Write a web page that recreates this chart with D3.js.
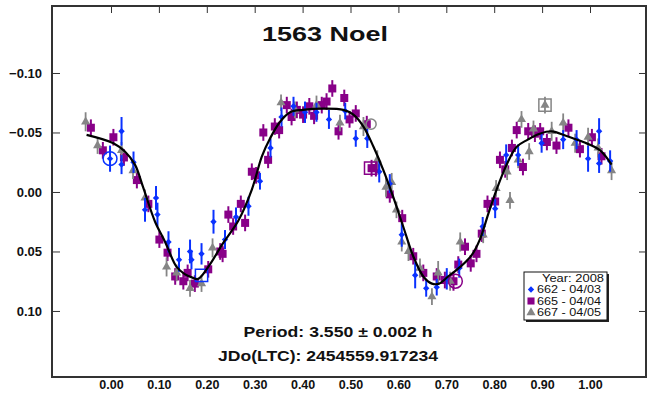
<!DOCTYPE html>
<html><head><meta charset="utf-8">
<script src="https://cdn.jsdelivr.net/npm/d3@7"></script>
<style>body{margin:0;background:#fff}svg{display:block}text{font-family:Arial,"Liberation Sans",sans-serif}</style>
</head><body><svg id="c" width="648" height="393"></svg>
<script>
// ---- data (phase, magnitude, error) ----
const series662 = [
 [-0.002,-0.028,0.011],[0.022,-0.051,0.012],[0.022,-0.023,0.008],[0.047,-0.025,0.009],[0.071,0.015,0.010],
 [0.094,0.005,0.010],[0.097,0.019,0.010],[0.120,0.042,0.009],[0.142,0.057,0.010],[0.165,0.050,0.010],
 [0.168,0.057,0.008],[0.189,0.052,0.009],[0.214,0.025,0.010],[0.238,0.040,0.008],[0.261,0.021,0.008],
 [0.287,0.012,0.008],[0.311,-0.009,0.007],[0.333,-0.037,0.008],[0.356,-0.063,0.008],[0.381,-0.072,0.008],
 [0.405,-0.067,0.009],[0.429,-0.067,0.008],[0.455,-0.061,0.008],[0.489,-0.068,0.007],[0.511,-0.045,0.007],
 [0.535,-0.045,0.008],[0.560,-0.017,0.009],[0.582,-0.007,0.008],[0.607,0.036,0.010],[0.635,0.070,0.011],
 [0.658,0.081,0.007],[0.680,0.080,0.007],[0.701,0.073,0.009],[0.727,0.064,0.008],[0.776,0.029,0.008],
 [0.802,0.014,0.008],[0.825,-0.031,0.009],[0.850,-0.031,0.009],[0.899,-0.041,0.008],[0.944,-0.044,0.008],
 [0.972,-0.044,0.008],[0.996,-0.028,0.011],[1.019,-0.051,0.011],[1.019,-0.024,0.008],[1.042,-0.026,0.009]
];
const series665 = [
 [-0.042,-0.054,0.007],[-0.017,-0.035,0.007],[0.005,-0.046,0.007],[0.027,-0.029,0.007],[0.054,-0.010,0.007],
 [0.078,0.010,0.007],[0.101,0.040,0.007],[0.118,0.051,0.007],[0.134,0.071,0.007],[0.151,0.075,0.007],
 [0.160,0.068,0.007],[0.175,0.077,0.007],[0.203,0.065,0.007],[0.228,0.050,0.007],[0.233,0.052,0.007],
 [0.245,0.019,0.007],[0.255,0.029,0.007],[0.271,0.010,0.007],[0.280,0.026,0.007],[0.294,-0.017,0.007],
 [0.303,-0.014,0.007],[0.328,-0.027,0.007],[0.318,-0.050,0.007],[0.342,-0.055,0.007],[0.351,-0.052,0.007],
 [0.367,-0.073,0.007],[0.377,-0.063,0.007],[0.388,-0.069,0.007],[0.401,-0.065,0.007],[0.414,-0.072,0.007],
 [0.424,-0.064,0.007],[0.440,-0.073,0.007],[0.450,-0.076,0.007],[0.462,-0.087,0.007],[0.475,-0.051,0.007],
 [0.487,-0.079,0.007],[0.498,-0.061,0.007],[0.511,-0.066,0.007],[0.534,-0.057,0.007],[0.544,-0.020,0.007],
 [0.553,-0.020,0.007],[0.582,0.002,0.007],[0.608,0.022,0.007],[0.631,0.054,0.007],[0.652,0.068,0.007],
 [0.680,0.071,0.007],[0.697,0.074,0.007],[0.715,0.075,0.008],[0.725,0.061,0.007],[0.739,0.046,0.007],
 [0.751,0.060,0.007],[0.763,0.052,0.007],[0.774,0.035,0.007],[0.786,0.010,0.007],[0.802,0.008,0.007],
 [0.812,-0.027,0.007],[0.823,-0.019,0.007],[0.837,-0.037,0.007],[0.847,-0.052,0.007],[0.860,-0.021,0.007],
 [0.871,-0.051,0.007],[0.885,-0.049,0.007],[0.896,-0.051,0.007],[0.910,-0.042,0.007],[0.930,-0.039,0.007],
 [0.955,-0.054,0.007],[0.979,-0.036,0.007],[1.004,-0.046,0.007],[1.024,-0.030,0.007]
];
const series667 = [
 [-0.053,-0.059,0.008],[-0.028,-0.039,0.007],[0.022,-0.035,0.007],[0.046,-0.018,0.007],[0.071,0.005,0.007],
 [0.116,0.063,0.008],[0.137,0.068,0.007],[0.165,0.081,0.007],[0.189,0.077,0.007],[0.212,0.047,0.008],
 [0.355,-0.075,0.007],[0.384,-0.069,0.007],[0.429,-0.073,0.008],[0.478,-0.058,0.007],[0.527,-0.055,0.008],
 [0.556,-0.027,0.008],[0.574,-0.004,0.008],[0.586,-0.008,0.008],[0.596,0.015,0.007],[0.607,0.042,0.008],
 [0.621,0.050,0.008],[0.645,0.064,0.008],[0.670,0.088,0.007],[0.683,0.068,0.010],[0.708,0.075,0.008],
 [0.729,0.042,0.008],[0.777,0.036,0.007],[0.804,-0.003,0.007],[0.827,-0.017,0.007],[0.833,0.007,0.007],
 [0.850,-0.027,0.007],[0.857,-0.061,0.007],[0.873,-0.034,0.007],[0.882,-0.053,0.007],[0.906,-0.073,0.007],
 [0.920,-0.051,0.008],[0.944,-0.058,0.008],[0.969,-0.041,0.008],[0.996,-0.046,0.008],[1.017,-0.037,0.008],
 [1.045,-0.018,0.008]
];
// fitted curve (phase, magnitude)
const fitCurve = [
 [-0.051,-0.048],[0.005,-0.041],[0.029,-0.034],[0.05,-0.023],[0.067,-0.004],[0.092,0.025],[0.113,0.042],
 [0.137,0.063],[0.154,0.069],[0.17,0.072],[0.182,0.073],[0.203,0.063],[0.234,0.043],[0.266,0.024],
 [0.294,-0.002],[0.315,-0.030],[0.332,-0.045],[0.353,-0.059],[0.374,-0.067],[0.40,-0.069],[0.443,-0.070],
 [0.485,-0.069],[0.506,-0.065],[0.527,-0.055],[0.548,-0.038],[0.569,-0.018],[0.589,0.004],[0.610,0.029],
 [0.631,0.054],[0.652,0.071],[0.670,0.077],[0.685,0.077],[0.704,0.071],[0.729,0.063],[0.753,0.053],
 [0.770,0.040],[0.788,0.018],[0.805,-0.002],[0.826,-0.023],[0.847,-0.038],[0.870,-0.044],[0.895,-0.049],
 [0.920,-0.051],[0.951,-0.047],[0.986,-0.042],[1.021,-0.035],[1.045,-0.023]
];
// first-point markers: [phase, magnitude, shape, session]
const highlights = [
 [-0.002,-0.028,"circle","662"],[0.189,0.070,"square","662"],
 [0.542,-0.020,"square","665"],[0.719,0.075,"circle","665"],
 [0.543,-0.057,"circle","667"],[0.906,-0.073,"square","667"]
];
const xTicks = [0,0.1,0.2,0.3,0.4,0.5,0.6,0.7,0.8,0.9,1.0];
const yTicks = [-0.10,-0.05,0,0.05,0.10];
const legendItems = ["662 - 04/03","665 - 04/04","667 - 04/05"];
const titleText = "1563 Noel";
const periodText = "Period: 3.550 \u00b1 0.002 h";
const jdText = "JDo(LTC): 2454559.917234";

// ---- drawing ----
const svg = d3.select("#c");
const L=52,R=646,T=6,B=377;
const x = d3.scaleLinear().domain([(L-111)/479,(R-111)/479]).range([L,R]);
const y = d3.scaleLinear().domain([-0.1563,0.1555]).range([T,B]);
const colors = {"662":"#0a32ff","665":"#880088","667":"#858585"};

// frame
svg.append("rect").attr("x",L).attr("y",T).attr("width",R-L).attr("height",B-T)
  .attr("fill","none").attr("stroke","#333").attr("stroke-width",2);

// axes
const fmt = d3.format(".2f");
const gx = svg.append("g").attr("transform",`translate(0,${B})`)
  .call(d3.axisBottom(x).tickValues(xTicks).tickFormat(fmt).tickSize(0).tickPadding(3));
const gy = svg.append("g").attr("transform",`translate(${L},0)`)
  .call(d3.axisLeft(y).tickValues(yTicks).tickFormat(fmt).tickSize(0).tickPadding(10));
[gx,gy].forEach(g=>{g.select(".domain").remove();
  g.selectAll("text").attr("font-size",13).attr("font-weight","bold").attr("fill","#111")
   .attr("font-family","Arial, 'Liberation Sans', sans-serif");});
gx.selectAll("text").attr("font-size",12.5);
// inward ticks
svg.append("g").call(d3.axisBottom(x).tickValues(xTicks).tickFormat("").tickSize(7))
  .attr("transform",`translate(0,${T})`).call(g=>g.select(".domain").remove())
  .selectAll("line").attr("stroke","#333");
svg.append("g").call(d3.axisRight(y).tickValues(yTicks).tickFormat("").tickSize(8))
  .attr("transform",`translate(${L},0)`).call(g=>g.select(".domain").remove())
  .selectAll("line").attr("stroke","#333");
svg.append("g").call(d3.axisLeft(y).tickValues(yTicks).tickFormat("").tickSize(7))
  .attr("transform",`translate(${R},0)`).call(g=>g.select(".domain").remove())
  .selectAll("line").attr("stroke","#333");

// title and notes
svg.append("text").attr("x",325).attr("y",41).attr("text-anchor","middle")
  .attr("font-size",21).attr("font-weight","bold").attr("fill","#111")
  .attr("textLength",126).attr("lengthAdjust","spacingAndGlyphs").text(titleText);
svg.append("text").attr("x",338).attr("y",337).attr("text-anchor","middle")
  .attr("font-size",14.5).attr("font-weight","bold").attr("fill","#111")
  .attr("textLength",189).attr("lengthAdjust","spacingAndGlyphs").text(periodText);
svg.append("text").attr("x",328).attr("y",361).attr("text-anchor","middle")
  .attr("font-size",14.5).attr("font-weight","bold").attr("fill","#111")
  .attr("textLength",220).attr("lengthAdjust","spacingAndGlyphs").text(jdText);

const plot = svg.append("g");
const sym = {
 "662": d3.symbol().type(d3.symbolDiamond2).size(26),
 "665": d3.symbol().type(d3.symbolSquare).size(64),
 "667": d3.symbol().type(d3.symbolTriangle).size(36)
};
function drawSeries(data,key,bw){
  const g = plot.append("g");
  g.selectAll("line").data(data).join("line")
   .attr("x1",d=>x(d[0])).attr("x2",d=>x(d[0]))
   .attr("y1",d=>y(d[1]-d[2])).attr("y2",d=>y(d[1]+d[2]))
   .attr("stroke",colors[key]).attr("stroke-width",bw);
  g.selectAll("path").data(data).join("path")
   .attr("transform",d=>`translate(${x(d[0])},${y(d[1])})`)
   .attr("d",sym[key]()).attr("fill",colors[key]);
}
drawSeries(series665,"665",2);
drawSeries(series667,"667",1.8);
drawSeries(series662,"662",2);

// highlight markers
plot.selectAll(".hl").data(highlights).join("path").attr("class","hl")
  .attr("transform",d=>`translate(${x(d[0])},${y(d[1])})`)
  .attr("d",d=>d3.symbol().type(d[2]==="circle"?d3.symbolCircle:d3.symbolSquare)
     .size(d[2]==="circle"?(d[3]==="667"?80:150):150)())
  .attr("fill","none").attr("stroke",d=>colors[d[3]]).attr("stroke-width",1.5);

// fit curve
plot.append("path").datum(fitCurve)
  .attr("d",d3.line().x(d=>x(d[0])).y(d=>y(d[1])).curve(d3.curveCatmullRom))
  .attr("fill","none").attr("stroke","#000").attr("stroke-width",2.2);

// legend
const lg = svg.append("g");
lg.append("rect").attr("x",526).attr("y",274).attr("width",83).attr("height",48).attr("fill","#222");
lg.append("rect").attr("x",524).attr("y",272).attr("width",83).attr("height",48)
  .attr("fill","#fff").attr("stroke","#111").attr("stroke-width",1);
lg.append("text").attr("x",604).attr("y",282).attr("text-anchor","end").attr("font-size",10)
  .attr("fill","#111").attr("textLength",62).attr("lengthAdjust","spacingAndGlyphs").text("Year: 2008");
const keys=["662","665","667"];
legendItems.forEach((t,i)=>{
  const yy = 293 + i*11.5;
  lg.append("path").attr("transform",`translate(531,${yy-3.5})`)
    .attr("d",d3.symbol().type(i===0?d3.symbolDiamond2:i===1?d3.symbolSquare:d3.symbolTriangle)
      .size(i===0?26:i===1?50:36)()).attr("fill",colors[keys[i]]);
  lg.append("text").attr("x",537).attr("y",yy).attr("font-size",10).attr("fill","#111")
    .attr("textLength",64).attr("lengthAdjust","spacingAndGlyphs").text(t);
});
</script></body></html>
